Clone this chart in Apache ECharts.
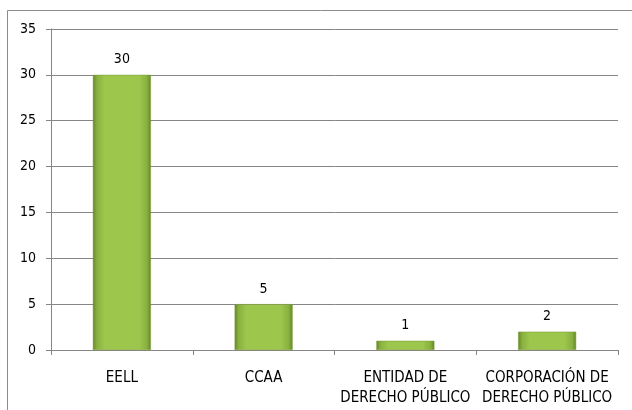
<!DOCTYPE html>
<html>
<head>
<meta charset="utf-8">
<script src="https://cdn.jsdelivr.net/npm/echarts@6/dist/echarts.min.js"></script>
<style>
  html, body { margin: 0; padding: 0; background: #fff; }
  #chart { width: 632px; height: 410px; }
</style>
</head>
<body>
<div id="chart"></div>
<script>
// Entities by type
const categories = ['EELL', 'CCAA', 'ENTIDAD DE\nDERECHO PÚBLICO', 'CORPORACIÓN DE\nDERECHO PÚBLICO'];
const values = [30, 5, 1, 2];
const yTicks = { min: 0, max: 35, interval: 5 };

const FONT = "'DejaVu Sans Condensed', 'Liberation Sans Narrow', sans-serif";

// Bevelled green fill: dark narrow edges, flat body
const barFill = new echarts.graphic.LinearGradient(0, 0, 1, 0, [
  { offset: 0, color: '#66852a' },
  { offset: 0.07, color: '#88b13f' },
  { offset: 0.2, color: '#9cc64c' },
  { offset: 0.8, color: '#9cc64c' },
  { offset: 0.93, color: '#88b13f' },
  { offset: 1, color: '#66852a' }
]);

const chart = echarts.init(document.getElementById('chart'), null, { renderer: 'canvas' });
chart.setOption({
  animation: false,
  backgroundColor: '#ffffff',
  graphic: [{
    type: 'rect',
    shape: { x: 7.5, y: 10.5, width: 640, height: 420 },
    style: { fill: 'none', stroke: '#8c8c8c', lineWidth: 1 },
    silent: true
  }],
  grid: { left: 51, right: 14, top: 29, bottom: 60 },
  xAxis: {
    type: 'category',
    data: categories,
    axisLine: { lineStyle: { color: '#868686', width: 1 } },
    axisTick: { show: true, alignWithLabel: false, length: 5, lineStyle: { color: '#868686' } },
    axisLabel: { color: '#000', fontFamily: FONT, fontSize: 15, margin: 18, lineHeight: 20, interval: 0 }
  },
  yAxis: {
    type: 'value',
    min: yTicks.min, max: yTicks.max, interval: yTicks.interval,
    axisLine: { show: true, lineStyle: { color: '#868686', width: 1 } },
    axisTick: { show: true, length: 5, lineStyle: { color: '#868686' } },
    axisLabel: { color: '#000', fontFamily: FONT, fontSize: 14, margin: 15 },
    splitLine: { lineStyle: { color: '#868686', width: 1 } }
  },
  series: [{
    type: 'bar',
    data: values,
    barWidth: 58,
    itemStyle: { color: barFill, borderColor: '#7a9a33', borderWidth: 0.5 },
    label: { show: true, position: 'top', distance: 8, color: '#000', fontFamily: FONT, fontSize: 14 }
  }]
});
</script>
</body>
</html>
